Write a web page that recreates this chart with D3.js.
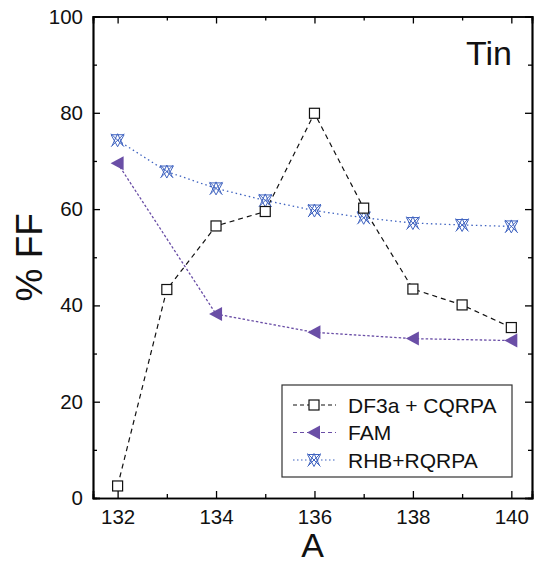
<!DOCTYPE html>
<html><head><meta charset="utf-8">
<script src="https://cdn.jsdelivr.net/npm/d3@7/dist/d3.min.js"></script>
<style>
body{margin:0;background:#fff;}
svg{display:block;font-family:"Liberation Sans",Arial,Helvetica,sans-serif;}
</style></head>
<body>
<svg id="chart" width="538" height="565"></svg>
<script>
const massNumbers = [132,133,134,135,136,137,138,139,140];
const df3aValues  = [2.5,43.3,56.5,59.5,79.9,60.2,43.4,40.1,35.4];
const famMass     = [132,134,136,138,140];
const famValues   = [69.5,38.2,34.4,33.1,32.7];
const rhbValues   = [74.3,67.8,64.3,61.8,59.7,58.2,57.1,56.7,56.4];
const xMajorTicks = [132,134,136,138,140];
const xMinorTicks = [133,135,137,139];
const yMajorTicks = [0,20,40,60,80,100];
const yMinorTicks = [10,30,50,70,90];
const seriesNames = ["DF3a + CQRPA","FAM","RHB+RQRPA"];

const svg = d3.select("#chart");
const L=93,R=532,T=16.5,B=498;
const x = d3.scaleLinear().domain([131.5,140.42]).range([L,R]);
const y = d3.scaleLinear().domain([0,100]).range([B,T]);

const cBlack="#111", cPurple="#6a4ea6", cBlue="#3f63c0";

function styleAxis(g){
  g.select(".domain").attr("stroke","#000").attr("stroke-width",1.7);
  g.selectAll(".tick line").attr("stroke","#000").attr("stroke-width",1.3);
  g.selectAll("text").attr("font-size",20.5).attr("fill","#111").attr("font-family","Liberation Sans, Arial, sans-serif");
}
const gx = svg.append("g").attr("transform",`translate(0,${B})`)
  .call(d3.axisBottom(x).tickValues(xMajorTicks).tickSize(-7).tickPadding(11).tickFormat(d3.format("d")));
styleAxis(gx);
const gxm = svg.append("g").attr("transform",`translate(0,${B})`)
  .call(d3.axisBottom(x).tickValues(xMinorTicks).tickSize(-4).tickFormat(""));
styleAxis(gxm);
const gxt = svg.append("g").attr("transform",`translate(0,${T})`)
  .call(d3.axisTop(x).tickValues(xMajorTicks).tickSize(-7).tickFormat(""));
styleAxis(gxt);
const gxtm = svg.append("g").attr("transform",`translate(0,${T})`)
  .call(d3.axisTop(x).tickValues(xMinorTicks).tickSize(-4).tickFormat(""));
styleAxis(gxtm);

const gy = svg.append("g").attr("transform",`translate(${L},0)`)
  .call(d3.axisLeft(y).tickValues(yMajorTicks).tickSize(-7).tickPadding(10).tickFormat(d3.format("d")));
styleAxis(gy);
const gym = svg.append("g").attr("transform",`translate(${L},0)`)
  .call(d3.axisLeft(y).tickValues(yMinorTicks).tickSize(-4).tickFormat(""));
styleAxis(gym);
const gyr = svg.append("g").attr("transform",`translate(${R},0)`)
  .call(d3.axisRight(y).tickValues(yMajorTicks).tickSize(-7).tickFormat(""));
styleAxis(gyr);
const gyrm = svg.append("g").attr("transform",`translate(${R},0)`)
  .call(d3.axisRight(y).tickValues(yMinorTicks).tickSize(-4).tickFormat(""));
styleAxis(gyrm);

svg.append("text").attr("x",(L+R)/2).attr("y",557).attr("text-anchor","middle")
  .attr("font-size",34).attr("fill","#111").text("A");
svg.append("text").attr("transform",`translate(42,${(T+B)/2}) rotate(-90)`).attr("text-anchor","middle")
  .attr("font-size",37).attr("fill","#111").text("% FF");
svg.append("text").attr("x",512).attr("y",65).attr("text-anchor","end")
  .attr("font-size",34).attr("fill","#111").text("Tin");

function drawSquare(g,cx,cy){
  g.append("rect").attr("x",cx-5).attr("y",cy-5).attr("width",10).attr("height",10)
    .attr("fill","#fff").attr("stroke",cBlack).attr("stroke-width",1.2);
}
function drawTri(g,cx,cy){
  g.append("path").attr("d",`M${cx-7},${cy}L${cx+6},${cy-7}L${cx+6},${cy+7}Z`).attr("fill",cPurple);
}
function drawStar(g,cx,cy){
  const s=6.5;
  g.append("path").attr("d",
    `M${cx-s},${cy-s}L${cx+s},${cy+s}M${cx+s},${cy-s}L${cx-s},${cy+s}`+
    `M${cx-s},${cy-s+1}L${cx+s},${cy-s+1}L${cx},${cy+s}Z`+
    `M${cx-s+1},${cy+s-1}L${cx},${cy-s}L${cx+s-1},${cy+s-1}`)
    .attr("fill","none").attr("stroke",cBlue).attr("stroke-width",1);
}

const line = d3.line().x(d=>x(d[0])).y(d=>y(d[1]));
const df3a = massNumbers.map((m,i)=>[m,df3aValues[i]]);
const fam = famMass.map((m,i)=>[m,famValues[i]]);
const rhb = massNumbers.map((m,i)=>[m,rhbValues[i]]);

svg.append("path").datum(rhb).attr("d",line).attr("fill","none").attr("stroke",cBlue)
  .attr("stroke-width",1.3).attr("stroke-dasharray","1.5,3");
svg.append("path").datum(fam).attr("d",line).attr("fill","none").attr("stroke",cPurple)
  .attr("stroke-width",1.3).attr("stroke-dasharray","2.5,2");
svg.append("path").datum(df3a).attr("d",line).attr("fill","none").attr("stroke",cBlack)
  .attr("stroke-width",1.2).attr("stroke-dasharray","5,4");

const gm = svg.append("g");
rhb.forEach(d=>drawStar(gm,x(d[0]),y(d[1])));
fam.forEach(d=>drawTri(gm,x(d[0]),y(d[1])));
df3a.forEach(d=>drawSquare(gm,x(d[0]),y(d[1])));

const lg = svg.append("g");
lg.append("rect").attr("x",282).attr("y",385).attr("width",230).attr("height",92)
  .attr("fill","#fff").attr("stroke","#333").attr("stroke-width",1.2);
const rows=[405,432.5,460];
const styles=[{c:cBlack,d:"4,3",m:drawSquare},{c:cPurple,d:"4,3",m:drawTri},{c:cBlue,d:"1.5,2.5",m:drawStar}];
seriesNames.forEach((n,i)=>{
  lg.append("line").attr("x1",293).attr("x2",336).attr("y1",rows[i]).attr("y2",rows[i])
    .attr("stroke",styles[i].c).attr("stroke-width",1.2).attr("stroke-dasharray",styles[i].d);
  styles[i].m(lg,314,rows[i]);
  lg.append("text").attr("x",348).attr("y",rows[i]+7.5).attr("font-size",21).attr("fill","#111").text(n);
});
</script>
</body></html>
